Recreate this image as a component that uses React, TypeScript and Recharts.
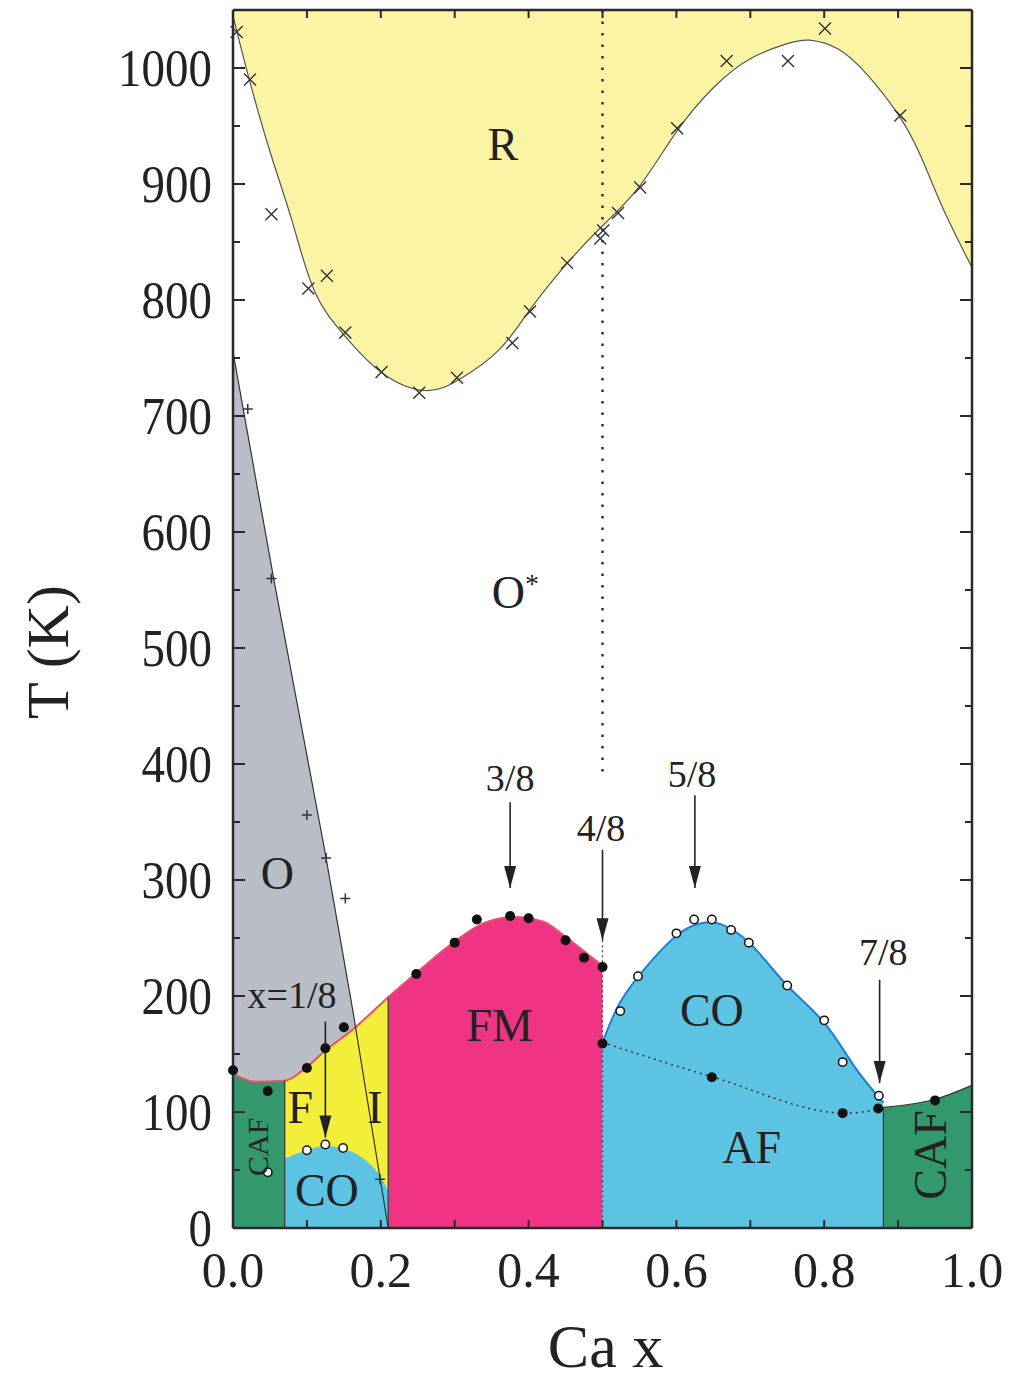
import React from 'react';
import { ComposedChart, XAxis, YAxis, Area, Line, Scatter } from 'recharts';

const serif = '"Liberation Serif", "DejaVu Serif", serif';
const ink = '#222';

// phase boundaries, x = Ca content, t = temperature (K)
const rBoundary = [
  { x: 0, t: 1045 }, { x: 0.02, t: 995 }, { x: 0.05, t: 928 }, { x: 0.08, t: 868 },
  { x: 0.11, t: 808 }, { x: 0.15, t: 770 }, { x: 0.2, t: 738 }, { x: 0.26, t: 722 },
  { x: 0.31, t: 733 }, { x: 0.36, t: 757 }, { x: 0.4, t: 790 }, { x: 0.45, t: 830 },
  { x: 0.5, t: 864 }, { x: 0.55, t: 898 }, { x: 0.6, t: 945 }, { x: 0.65, t: 983 },
  { x: 0.7, t: 1008 }, { x: 0.75, t: 1021 }, { x: 0.78, t: 1024 }, { x: 0.82, t: 1016 },
  { x: 0.86, t: 993 }, { x: 0.9, t: 960 }, { x: 0.93, t: 925 }, { x: 0.96, t: 880 },
  { x: 1.0, t: 828 },
];
const oBoundary = [
  { x: 0, t: 755 }, { x: 0.055, t: 560 }, { x: 0.124, t: 326 }, { x: 0.162, t: 188 }, { x: 0.21, t: 0 },
];
const fmBoundary = [
  { x: 0, t: 133 }, { x: 0.03, t: 126 }, { x: 0.07, t: 127 }, { x: 0.1, t: 139 },
  { x: 0.125, t: 153 }, { x: 0.16, t: 170 }, { x: 0.21, t: 199 }, { x: 0.25, t: 221 },
  { x: 0.3, t: 247 }, { x: 0.34, t: 263 }, { x: 0.38, t: 268 }, { x: 0.42, t: 264 },
  { x: 0.45, t: 251 }, { x: 0.48, t: 236 }, { x: 0.5, t: 226 },
];
const coLeft = [
  { x: 0.07, t: 60 }, { x: 0.1, t: 67 }, { x: 0.125, t: 71 }, { x: 0.15, t: 68 },
  { x: 0.18, t: 58 }, { x: 0.2, t: 44 }, { x: 0.21, t: 32 },
];
const coRight = [
  { x: 0.5, t: 160 }, { x: 0.52, t: 190 }, { x: 0.55, t: 218 }, { x: 0.6, t: 252 },
  { x: 0.635, t: 263 }, { x: 0.66, t: 262 }, { x: 0.7, t: 245 }, { x: 0.75, t: 209 },
  { x: 0.8, t: 177 }, { x: 0.84, t: 140 }, { x: 0.88, t: 108 },
];
const afBoundary = [{ x: 0.5, t: 160 }, { x: 0.65, t: 130 }, { x: 0.83, t: 99 }, { x: 0.88, t: 103 }];
const cafRight = [{ x: 0.88, t: 104 }, { x: 0.95, t: 111 }, { x: 1.0, t: 123 }];
const walls = [{ x: 0.07, top: 127 }, { x: 0.21, top: 199 }, { x: 0.88, top: 104 }];

// measured transition points
const tRhombic = [
  { x: 0.005, t: 1031 }, { x: 0.023, t: 990 }, { x: 0.052, t: 874 }, { x: 0.102, t: 810 },
  { x: 0.127, t: 821 }, { x: 0.152, t: 772 }, { x: 0.201, t: 738 }, { x: 0.252, t: 720 },
  { x: 0.303, t: 733 }, { x: 0.378, t: 763 }, { x: 0.402, t: 790 }, { x: 0.452, t: 832 },
  { x: 0.497, t: 853 }, { x: 0.501, t: 860 }, { x: 0.521, t: 875 }, { x: 0.551, t: 897 },
  { x: 0.601, t: 948 }, { x: 0.668, t: 1006 }, { x: 0.751, t: 1006 }, { x: 0.801, t: 1034 },
  { x: 0.903, t: 959 },
];
const tOrtho = [
  { x: 0.02, t: 706 }, { x: 0.052, t: 560 }, { x: 0.1, t: 356 }, { x: 0.126, t: 319 },
  { x: 0.152, t: 284 }, { x: 0.199, t: 42 },
];
const tMagnetic = [
  { x: 0.0, t: 136 }, { x: 0.047, t: 118 }, { x: 0.1, t: 138 }, { x: 0.125, t: 155 },
  { x: 0.15, t: 173 }, { x: 0.248, t: 219 }, { x: 0.3, t: 246 }, { x: 0.33, t: 266 },
  { x: 0.375, t: 269 }, { x: 0.4, t: 267 }, { x: 0.45, t: 248 }, { x: 0.475, t: 233 },
  { x: 0.5, t: 225 }, { x: 0.5, t: 159 }, { x: 0.648, t: 130 }, { x: 0.825, t: 99 },
  { x: 0.873, t: 103 }, { x: 0.95, t: 110 },
];
const tCharge = [
  { x: 0.047, t: 48 }, { x: 0.1, t: 67 }, { x: 0.125, t: 72 }, { x: 0.149, t: 69 },
  { x: 0.524, t: 187 }, { x: 0.548, t: 217 }, { x: 0.6, t: 254 }, { x: 0.624, t: 266 },
  { x: 0.648, t: 266 }, { x: 0.674, t: 257 }, { x: 0.698, t: 246 }, { x: 0.75, t: 209 },
  { x: 0.8, t: 179 }, { x: 0.825, t: 143 }, { x: 0.874, t: 114 },
];

const xTicks = [0, 0.2, 0.4, 0.6, 0.8, 1.0];
const xMinor = [0.1, 0.2, 0.3, 0.4, 0.5, 0.6, 0.7, 0.8, 0.9];
const yTicks = [0, 100, 200, 300, 400, 500, 600, 700, 800, 900, 1000];
const yMinor = [50, 150, 250, 350, 450, 550, 650, 750, 850, 950];

// commensurate fillings
const arrows = [
  { x: 0.125, from: 178, to: 78, text: 'x=1/8', lx: 0.08, lt: 201 },
  { x: 0.375, from: 367, to: 293, text: '3/8', lx: 0.375, lt: 388 },
  { x: 0.5, from: 326, to: 248, text: '4/8', lx: 0.498, lt: 345 },
  { x: 0.625, from: 373, to: 293, text: '5/8', lx: 0.621, lt: 392 },
  { x: 0.875, from: 214, to: 125, text: '7/8', lx: 0.88, lt: 238 },
];
const phases = [
  { x: 0.365, t: 935, text: 'R' },
  { x: 0.382, t: 548, text: 'O*' },
  { x: 0.06, t: 306, text: 'O' },
  { x: 0.361, t: 175, text: 'FM' },
  { x: 0.648, t: 188, text: 'CO' },
  { x: 0.702, t: 70, text: 'AF' },
  { x: 0.127, t: 33, text: 'CO' },
  { x: 0.091, t: 104, text: 'F' },
  { x: 0.192, t: 104, text: 'I' },
  { x: 0.033, t: 70, text: 'CAF', rot: true, small: true },
  { x: 0.943, t: 63, text: 'CAF', rot: true },
];

const XTick = ({ x, y, payload }: any) => (
  <text x={x} y={y + 59} textAnchor="middle" fontFamily={serif} fontSize={50} fill={ink}>
    {Number(payload.value).toFixed(1)}
  </text>
);

const YTick = ({ x, y, payload }: any) => (
  <text transform={`translate(${x - 21},${y}) scale(1,1.12)`} textAnchor="end" dy="0.35em"
    fontFamily={serif} fontSize={47} fill={ink}>
    {payload.value}
  </text>
);

// inward tick marks; dx/dy give direction and length in px
const tickMark = (dx: number, dy: number) => ({ cx, cy }: any) => (
  <line x1={cx} y1={cy} x2={cx + dx} y2={cy + dy} stroke="#2a2a2a" strokeWidth={2} />
);

const cross = ({ cx, cy }: any) => (
  <path d={`M${cx - 6},${cy - 6}L${cx + 6},${cy + 6}M${cx - 6},${cy + 6}L${cx + 6},${cy - 6}`}
    stroke="#333" strokeWidth={1.4} fill="none" />
);
const plus = ({ cx, cy }: any) => (
  <path d={`M${cx - 5},${cy}L${cx + 5},${cy}M${cx},${cy - 5}L${cx},${cy + 5}`}
    stroke="#333" strokeWidth={1.5} fill="none" />
);
const dot = ({ cx, cy }: any) => <circle cx={cx} cy={cy} r={5} fill="#111" />;
const ring = ({ cx, cy }: any) => <circle cx={cx} cy={cy} r={4.2} fill="#fff" stroke="#111" strokeWidth={1.5} />;
const head = ({ cx, cy }: any) => (
  <path d={`M${cx},${cy}L${cx - 6},${cy - 22}L${cx + 6},${cy - 22}Z`} fill={ink} />
);

const arrowText = ({ cx, cy, payload }: any) => (
  <text x={cx} y={cy} dy="0.35em" textAnchor="middle" fontFamily={serif} fontSize={38} fill={ink}>
    {payload.text}
  </text>
);

const phaseText = ({ cx, cy, payload }: any) => {
  if (payload.rot) {
    return (
      <text transform={`translate(${cx},${cy}) rotate(-90)`} dy="0.35em" textAnchor="middle"
        fontFamily={serif} fontSize={payload.small ? 30 : 46} fill={ink}>
        {payload.text}
      </text>
    );
  }
  if (payload.text === 'O*') {
    return (
      <text x={cx} y={cy} dy="0.35em" textAnchor="middle" fontFamily={serif} fontSize={46} fill={ink}>
        O<tspan dy="-0.55em" fontSize={28}>*</tspan>
      </text>
    );
  }
  return (
    <text x={cx} y={cy} dy="0.35em" textAnchor="middle" fontFamily={serif} fontSize={46} fill={ink}>
      {payload.text}
    </text>
  );
};

const frame = { stroke: '#2a2a2a', strokeWidth: 2.5 };

export default function App() {
  const cafLeft = fmBoundary.filter((p) => p.x <= 0.07);
  const fi = fmBoundary.filter((p) => p.x >= 0.07 && p.x <= 0.21);
  const fm = fmBoundary.filter((p) => p.x >= 0.21);

  return (
    <div style={{ width: 1009, height: 1374 }}>
      <ComposedChart width={1009} height={1374} margin={{ top: 2, right: 45, bottom: 0, left: 0 }}>
        <XAxis dataKey="x" type="number" domain={[0, 1]} ticks={xTicks} interval={0}
          height={154} tickLine={false} tickSize={0} tickMargin={0} axisLine={frame} tick={<XTick />}
          label={(props: any) => {
            const vb = props.viewBox;
            return (
              <text x={vb.x + vb.width / 2 + 3} y={vb.y + 139} textAnchor="middle" fontFamily={serif}
                fontSize={62} fill={ink}>Ca x</text>
            );
          }} />
        <XAxis xAxisId="tp" orientation="top" type="number" domain={[0, 1]} mirror height={1}
          tick={false} tickLine={false} axisLine={frame} />
        <YAxis dataKey="t" type="number" domain={[0, 1050]} ticks={yTicks} interval={0}
          width={225} tickLine={false} tickSize={0} tickMargin={0} axisLine={frame} tick={<YTick />}
          label={(props: any) => {
            const vb = props.viewBox;
            const cx = vb.x + 60;
            const cy = vb.y + 642;
            return (
              <text transform={`translate(${cx},${cy}) rotate(-90)`} textAnchor="middle" fontFamily={serif}
                fontSize={60} fill={ink}>T (K)</text>
            );
          }} />
        <YAxis yAxisId="rt" orientation="right" type="number" domain={[0, 1050]} mirror width={1}
          tick={false} tickLine={false} axisLine={frame} />

        <Area data={rBoundary} dataKey="t" type="natural" baseValue={1050} fill="#faf4a4" fillOpacity={1}
          stroke="#555" strokeWidth={1.2} isAnimationActive={false} />
        <Area data={oBoundary} dataKey="t" type="linear" baseValue={0} fill="#b9bec6" fillOpacity={1}
          stroke="none" isAnimationActive={false} />
        <Area data={cafLeft} dataKey="t" type="monotone" baseValue={0} fill="#33996c" fillOpacity={1}
          stroke="none" isAnimationActive={false} />
        <Area data={fi} dataKey="t" type="monotone" baseValue={0} fill="#f2ee3a" fillOpacity={1}
          stroke="none" isAnimationActive={false} />
        <Area data={fm} dataKey="t" type="monotone" baseValue={0} fill="#ef3483" fillOpacity={1}
          stroke="none" isAnimationActive={false} />
        <Area data={coLeft} dataKey="t" type="monotone" baseValue={0} fill="#5cc4e2" fillOpacity={1}
          stroke="none" isAnimationActive={false} />
        <Area data={coRight} dataKey="t" type="natural" baseValue={0} fill="#5cc4e2" fillOpacity={1}
          stroke="#1f7fd0" strokeWidth={2} isAnimationActive={false} />
        <Area data={cafRight} dataKey="t" type="monotone" baseValue={0} fill="#33996c" fillOpacity={1}
          stroke="#333" strokeWidth={1.2} isAnimationActive={false} />

        <Line data={fmBoundary} dataKey="t" type="monotone" stroke="#e8506a" strokeWidth={2} dot={false}
          isAnimationActive={false} />
        <Line data={oBoundary} dataKey="t" type="linear" stroke="#333" strokeWidth={1.2} dot={false}
          isAnimationActive={false} />
        <Line data={afBoundary} dataKey="t" type="monotone" stroke="#333" strokeWidth={1.5}
          strokeDasharray="2 4" dot={false} isAnimationActive={false} />
        {walls.map((w, i) => (
          <Line key={`w${i}`} data={[{ x: w.x, t: 0 }, { x: w.x, t: w.top }]} dataKey="t" type="linear"
            stroke="#333" strokeWidth={1.2} dot={false} isAnimationActive={false} />
        ))}
        <Line data={[{ x: 0.5, t: 1050 }, { x: 0.5, t: 392 }]} dataKey="t" type="linear" stroke="#333"
          strokeWidth={2.5} strokeDasharray="2.5 9" dot={false} isAnimationActive={false} />
        <Line data={[{ x: 0.5, t: 248 }, { x: 0.5, t: 0 }]} dataKey="t" type="linear" stroke="#444"
          strokeWidth={1.2} strokeDasharray="2 3" dot={false} isAnimationActive={false} />
        {arrows.map((a, i) => (
          <Line key={`a${i}`} data={[{ x: a.x, t: a.from }, { x: a.x, t: a.to }]} dataKey="t" type="linear"
            stroke={ink} strokeWidth={1.6} dot={false} isAnimationActive={false} />
        ))}

        <Scatter data={xMinor.map((x) => ({ x, t: 0 }))} dataKey="t" shape={tickMark(0, -8)}
          isAnimationActive={false} />
        <Scatter data={xMinor.map((x) => ({ x, t: 1050 }))} dataKey="t" shape={tickMark(0, 8)}
          isAnimationActive={false} />
        <Scatter data={yTicks.map((t) => ({ x: 0, t }))} dataKey="t" shape={tickMark(12, 0)}
          isAnimationActive={false} />
        <Scatter data={yMinor.map((t) => ({ x: 0, t }))} dataKey="t" shape={tickMark(7, 0)}
          isAnimationActive={false} />
        <Scatter data={yTicks.map((t) => ({ x: 1, t }))} dataKey="t" shape={tickMark(-12, 0)}
          isAnimationActive={false} />
        <Scatter data={yMinor.map((t) => ({ x: 1, t }))} dataKey="t" shape={tickMark(-7, 0)}
          isAnimationActive={false} />

        <Scatter data={tRhombic} dataKey="t" shape={cross} isAnimationActive={false} />
        <Scatter data={tOrtho} dataKey="t" shape={plus} isAnimationActive={false} />
        <Scatter data={tMagnetic} dataKey="t" shape={dot} isAnimationActive={false} />
        <Scatter data={tCharge} dataKey="t" shape={ring} isAnimationActive={false} />
        <Scatter data={arrows.map((a) => ({ x: a.x, t: a.to }))} dataKey="t" shape={head}
          isAnimationActive={false} />
        <Scatter data={arrows.map((a) => ({ x: a.lx, t: a.lt, text: a.text }))} dataKey="t" shape={arrowText}
          isAnimationActive={false} />
        <Scatter data={phases} dataKey="t" shape={phaseText} isAnimationActive={false} />
      </ComposedChart>
    </div>
  );
}
